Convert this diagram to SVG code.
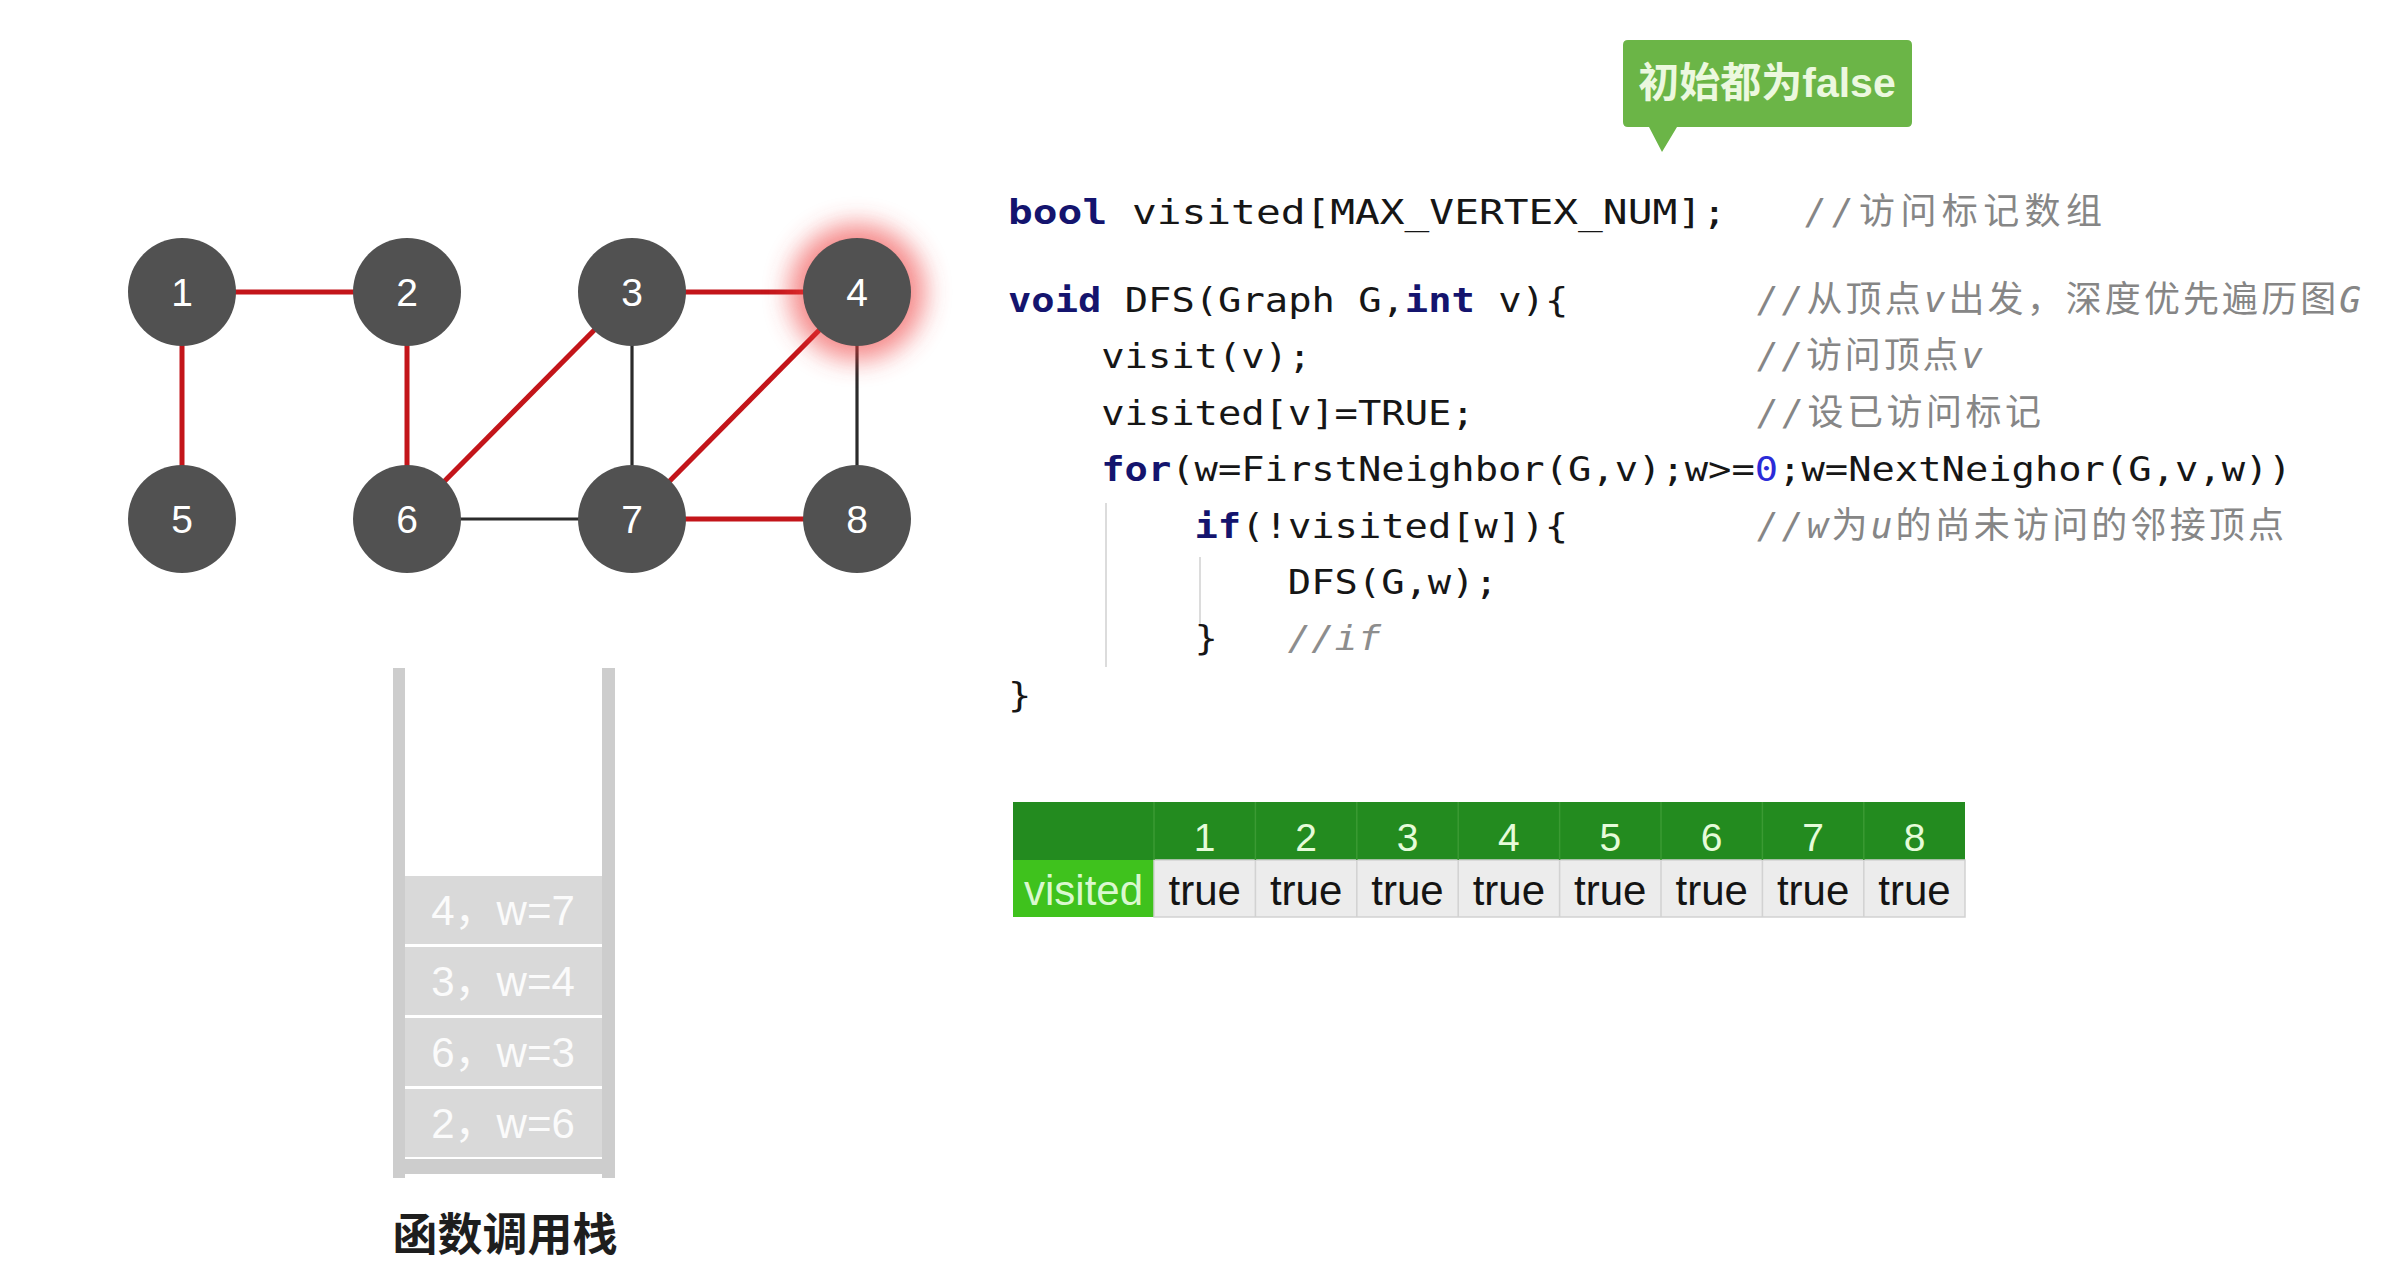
<svg xmlns="http://www.w3.org/2000/svg" width="2392" height="1278" viewBox="0 0 2392 1278">
  <defs>
    <style>
      .node circle { fill: #515151; }
      .node text { font-family: "Liberation Sans", Arial, sans-serif; font-size: 39px; fill: #ffffff; text-anchor: middle; }
      .edge-red { stroke: #c3151a; stroke-width: 5; stroke-linecap: butt; }
      .edge-dark { stroke: #2b2b2b; stroke-width: 3.2; }
      .code { font-family: "DejaVu Sans Mono", monospace; font-size: 33px; fill: #161616; }
      .kw { font-weight: bold; fill: #14146e; }
      .num { fill: #2b2bd8; }
      .cmt { font-family: "DejaVu Sans Mono", "Noto Sans CJK SC", monospace; font-size: 36px; fill: #868686; }
      .it { font-style: italic; }
      .guide { stroke: #dcdcdc; stroke-width: 2; }
      .stk-wall { fill: #cdcdcd; }
      .stk-frame { fill: #d9d9d9; }
      .stk-text { font-family: "Liberation Sans", "Noto Sans CJK SC", sans-serif; font-size: 42px; fill: #fbfbfb; text-anchor: middle; }
      .hdr { font-family: "Liberation Sans", Arial, sans-serif; font-size: 39px; fill: #e6fbd9; text-anchor: middle; }
      .val { font-family: "Liberation Sans", Arial, sans-serif; font-size: 42px; fill: #141414; text-anchor: middle; }
    </style>
    <filter id="glow" x="-1" y="-1" width="3" height="3">
      <feGaussianBlur stdDeviation="13"/>
    </filter>
  </defs>

  <rect x="0" y="0" width="2392" height="1278" fill="#ffffff"/>

  <!-- graph edges -->
  <g id="edges">
    <line class="edge-red" x1="182" y1="292" x2="407" y2="292"/>
    <line class="edge-red" x1="182" y1="292" x2="182" y2="519"/>
    <line class="edge-red" x1="407" y1="292" x2="407" y2="519"/>
    <line class="edge-red" x1="407" y1="519" x2="632" y2="292"/>
    <line class="edge-red" x1="632" y1="292" x2="857" y2="292"/>
    <line class="edge-red" x1="857" y1="292" x2="632" y2="519"/>
    <line class="edge-red" x1="632" y1="519" x2="857" y2="519"/>
    <line class="edge-dark" x1="632" y1="292" x2="632" y2="519"/>
    <line class="edge-dark" x1="857" y1="292" x2="857" y2="519"/>
    <line class="edge-dark" x1="407" y1="519" x2="632" y2="519"/>
  </g>

  <!-- graph vertices -->
  <g id="node-1" class="node"><circle cx="182" cy="292" r="54"/><text x="182" y="306">1</text></g>
  <g id="node-2" class="node"><circle cx="407" cy="292" r="54"/><text x="407" y="306">2</text></g>
  <g id="node-3" class="node"><circle cx="632" cy="292" r="54"/><text x="632" y="306">3</text></g>
  <g id="node-4" class="node">
    <circle cx="857" cy="292" r="68" opacity="0.6" filter="url(#glow)" style="fill:#ee3b3b"/>
    <circle cx="857" cy="292" r="54"/><text x="857" y="306">4</text>
  </g>
  <g id="node-5" class="node"><circle cx="182" cy="519" r="54"/><text x="182" y="533">5</text></g>
  <g id="node-6" class="node"><circle cx="407" cy="519" r="54"/><text x="407" y="533">6</text></g>
  <g id="node-7" class="node"><circle cx="632" cy="519" r="54"/><text x="632" y="533">7</text></g>
  <g id="node-8" class="node"><circle cx="857" cy="519" r="54"/><text x="857" y="533">8</text></g>

  <!-- call stack -->
  <g id="call-stack">
    <rect class="stk-wall" x="393" y="668" width="12" height="510"/>
    <rect class="stk-wall" x="602" y="668" width="13" height="510"/>
    <rect class="stk-wall" x="405" y="1159" width="197" height="15"/>
    <rect class="stk-frame" x="405" y="876" width="197" height="68"/>
    <rect class="stk-frame" x="405" y="947" width="197" height="68"/>
    <rect class="stk-frame" x="405" y="1018" width="197" height="68"/>
    <rect class="stk-frame" x="405" y="1089" width="197" height="68"/>
    <text class="stk-text" x="503" y="925">4，w=7</text>
    <text class="stk-text" x="503" y="996">3，w=4</text>
    <text class="stk-text" x="503" y="1067">6，w=3</text>
    <text class="stk-text" x="503" y="1138">2，w=6</text>
    <text x="505" y="1251" font-family="'Noto Sans CJK SC', sans-serif" font-size="45" font-weight="bold" fill="#1e1e1e" text-anchor="middle">函数调用栈</text>
  </g>

  <!-- tooltip -->
  <g id="tooltip">
    <path d="M1628 40 H1907 Q1912 40 1912 45 V122 Q1912 127 1907 127 H1677 L1662 152 L1649 127 H1628 Q1623 127 1623 122 V45 Q1623 40 1628 40 Z" fill="#6bb547"/>
    <text x="1767" y="97" font-family="'Liberation Sans', 'Noto Sans CJK SC', sans-serif" font-size="41" font-weight="bold" fill="#ecf8df" text-anchor="middle">初始都为false</text>
  </g>

  <!-- code -->
  <g id="code">
    <line class="guide" x1="1106" y1="503" x2="1106" y2="667"/>
    <line class="guide" x1="1200" y1="557" x2="1200" y2="625"/>
    <g transform="scale(1.211,1)" class="code">
      <text x="832.4" y="224" font-size="34"><tspan class="kw">bool</tspan> visited[MAX_VERTEX_NUM];</text>
    </g>
    <g transform="scale(1.175,1)" class="code">
      <text x="857.9" y="312"><tspan class="kw">void</tspan> DFS(Graph G,<tspan class="kw">int</tspan> v){</text>
      <text x="937.2" y="368">visit(v);</text>
      <text x="937.2" y="425">visited[v]=TRUE;</text>
      <text x="937.2" y="481"><tspan class="kw">for</tspan>(w=FirstNeighbor(G,v);w&gt;=<tspan class="num">0</tspan>;w=NextNeighor(G,v,w))</text>
      <text x="1016.6" y="538"><tspan class="kw">if</tspan>(!visited[w]){</text>
      <text x="1096" y="594">DFS(G,w);</text>
      <text x="1016.6" y="650">}</text>
      <text x="1096" y="650" fill="#8d8d8d" font-style="italic">//if</text>
      <text x="857.9" y="707">}</text>
    </g>
    <text class="cmt" x="1805" y="224" textLength="297"><tspan class="it">//</tspan>访问标记数组</text>
    <text class="cmt" x="1757" y="312" textLength="604"><tspan class="it">//</tspan>从顶点<tspan class="it">v</tspan>出发，深度优先遍历图<tspan class="it">G</tspan></text>
    <text class="cmt" x="1757" y="368" textLength="226"><tspan class="it">//</tspan>访问顶点<tspan class="it">v</tspan></text>
    <text class="cmt" x="1757" y="425" textLength="284"><tspan class="it">//</tspan>设已访问标记</text>
    <text class="cmt" x="1757" y="538" textLength="527"><tspan class="it">//w</tspan>为<tspan class="it">u</tspan>的尚未访问的邻接顶点</text>
  </g>

  <!-- visited table -->
  <g id="visited-table">
    <rect x="1013" y="802" width="952" height="58" fill="#238b1f"/>
    <rect x="1013" y="860" width="141" height="57" fill="#3fc21d"/>
    <rect x="1154" y="860" width="811" height="57" fill="#ececec" stroke="#d2d2d2" stroke-width="1.5"/>
    <g stroke="#3b9a33" stroke-width="1.5">
      <line x1="1154" y1="802" x2="1154" y2="860"/>
      <line x1="1255.4" y1="802" x2="1255.4" y2="860"/>
      <line x1="1356.8" y1="802" x2="1356.8" y2="860"/>
      <line x1="1458.2" y1="802" x2="1458.2" y2="860"/>
      <line x1="1559.6" y1="802" x2="1559.6" y2="860"/>
      <line x1="1661" y1="802" x2="1661" y2="860"/>
      <line x1="1762.4" y1="802" x2="1762.4" y2="860"/>
      <line x1="1863.8" y1="802" x2="1863.8" y2="860"/>
    </g>
    <g stroke="#d2d2d2" stroke-width="1.5">
      <line x1="1255.4" y1="860" x2="1255.4" y2="917"/>
      <line x1="1356.8" y1="860" x2="1356.8" y2="917"/>
      <line x1="1458.2" y1="860" x2="1458.2" y2="917"/>
      <line x1="1559.6" y1="860" x2="1559.6" y2="917"/>
      <line x1="1661" y1="860" x2="1661" y2="917"/>
      <line x1="1762.4" y1="860" x2="1762.4" y2="917"/>
      <line x1="1863.8" y1="860" x2="1863.8" y2="917"/>
    </g>
    <text class="hdr" x="1204.7" y="851">1</text>
    <text class="hdr" x="1306.1" y="851">2</text>
    <text class="hdr" x="1407.5" y="851">3</text>
    <text class="hdr" x="1508.9" y="851">4</text>
    <text class="hdr" x="1610.3" y="851">5</text>
    <text class="hdr" x="1711.7" y="851">6</text>
    <text class="hdr" x="1813.1" y="851">7</text>
    <text class="hdr" x="1914.5" y="851">8</text>
    <text class="val" x="1083.5" y="905" style="fill:#daf8cf">visited</text>
    <text class="val" x="1204.7" y="905">true</text>
    <text class="val" x="1306.1" y="905">true</text>
    <text class="val" x="1407.5" y="905">true</text>
    <text class="val" x="1508.9" y="905">true</text>
    <text class="val" x="1610.3" y="905">true</text>
    <text class="val" x="1711.7" y="905">true</text>
    <text class="val" x="1813.1" y="905">true</text>
    <text class="val" x="1914.5" y="905">true</text>
  </g>
</svg>
